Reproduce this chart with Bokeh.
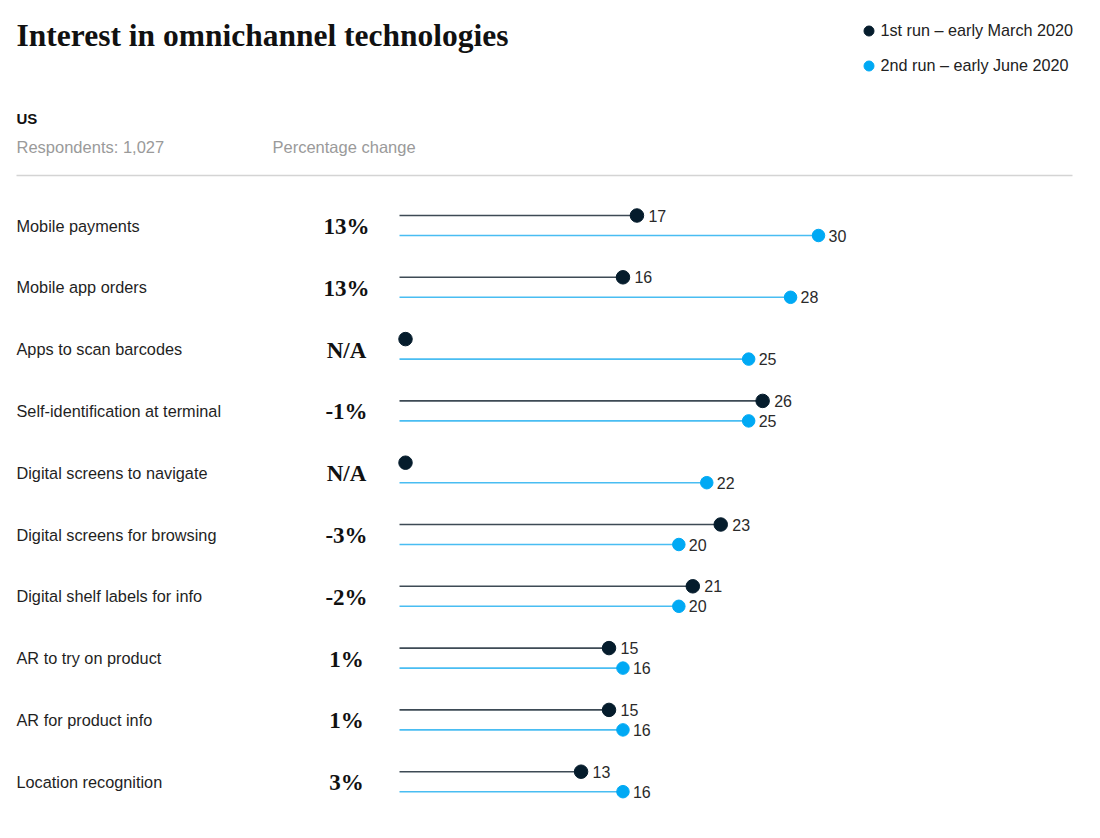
from bokeh.plotting import figure
from bokeh.models import (ColumnDataSource, Range1d, Label, LabelSet, Legend, LegendItem)
from bokeh.transform import dodge
from bokeh.core.properties import value
from bokeh.embed import file_html
from bokeh.resources import INLINE

# ---- data ----
categories = ["Mobile payments", "Mobile app orders", "Apps to scan barcodes",
              "Self-identification at terminal", "Digital screens to navigate",
              "Digital screens for browsing", "Digital shelf labels for info",
              "AR to try on product", "AR for product info", "Location recognition"]
run1 = [17, 16, None, 26, None, 23, 21, 15, 15, 13]
run2 = [30, 28, 25, 25, 22, 20, 20, 16, 16, 16]
pct_change = ["13%", "13%", "N/A", "-1%", "N/A", "-3%", "-2%", "1%", "1%", "3%"]
legend_labels = ["1st run \u2013 early March 2020", "2nd run \u2013 early June 2020"]

DARK = "#051c2c"
BLUE = "#00a9f4"
SANS = "Liberation Sans"
SERIF = "Liberation Serif"

W, H = 1096, 830
PX_PER_UNIT = (818 - 399) / 30.0
ROW_H = 61.8
ROW0 = 225.0
OFF = 10.0 / ROW_H

def px2x(px):  # page pixel -> value units
    return (px - 399) / PX_PER_UNIT

def px2y(py):  # page pixel -> row units
    return (py - ROW0) / ROW_H

rows = list(range(len(categories)))
nan = float("nan")
r1 = [nan if v is None else v for v in run1]
src1 = ColumnDataSource(dict(row=[r - OFF for r in rows], v=r1, x0=[0] * len(rows),
                             lab=["" if v is None else str(v) for v in run1]))
src2 = ColumnDataSource(dict(row=[r + OFF for r in rows], v=run2, x0=[0] * len(rows),
                             lab=[str(v) for v in run2]))
na_rows = [r - OFF for r, v in zip(rows, run1) if v is None]
src_na = ColumnDataSource(dict(row=na_rows, v=[0] * len(na_rows)))
src_lab = ColumnDataSource(dict(row=rows, cat=categories, pct=pct_change))

p = figure(width=W, height=H, output_backend="svg", toolbar_location=None,
           x_range=Range1d(px2x(0), px2x(W)),
           y_range=Range1d(px2y(H), px2y(0)),
           min_border=0, outline_line_color=None)
p.axis.visible = False
p.grid.visible = False
p.background_fill_color = "white"
p.border_fill_color = "white"

# rule under header
p.line(x=[px2x(16), px2x(1072)], y=[px2y(175), px2y(175)], line_color="#d4d4d4", line_width=1.5)

# lollipops
p.segment(x0="x0", y0="row", x1="v", y1="row", source=src1, line_color="#3d4a55", line_width=1.6)
p.segment(x0="x0", y0="row", x1="v", y1="row", source=src2, line_color="#49bdf2", line_width=1.6)
g1 = p.scatter(x="v", y="row", source=src1, size=13.5, fill_color=DARK, line_color=DARK)
g2 = p.scatter(x="v", y="row", source=src2, size=12.5, fill_color=BLUE, line_color=BLUE)
p.scatter(x=dodge("v", 6 / PX_PER_UNIT), y="row", source=src_na, size=13.5, fill_color=DARK, line_color=DARK)

# value labels
for s, xo in ((src1, 11.5), (src2, 10)):
    p.text(x="v", y="row", text="lab", source=s, x_offset=xo, text_baseline="middle",
           text_font=value(SANS), text_font_size="16px", text_color="#2a2a2a")

# category labels and percentage change
p.add_layout(LabelSet(x=16, y="row", x_units="screen", text="cat", source=src_lab,
                      text_baseline="middle", text_font=value(SANS), text_font_size="16.3px",
                      text_color="#1f1f1f", y_offset=0))
p.add_layout(LabelSet(x=346, y="row", x_units="screen", text="pct", source=src_lab,
                      text_baseline="middle", text_align="center", text_font=value(SERIF),
                      text_font_style="bold", text_font_size="23px", text_color="#111111", y_offset=-1))

# header
def sy(py):
    return H - py

p.add_layout(Label(x=16, y=sy(35), x_units="screen", y_units="screen",
                   text="Interest in omnichannel technologies", text_font=SERIF,
                   text_font_style="bold", text_font_size="31.5px", text_color="#111111",
                   text_baseline="alphabetic"))
p.add_layout(Label(x=16, y=sy(118), x_units="screen", y_units="screen", text="US",
                   text_font=SANS, text_font_style="bold", text_font_size="15px",
                   text_color="#111111", text_baseline="alphabetic"))
p.add_layout(Label(x=16, y=sy(146), x_units="screen", y_units="screen", text="Respondents: 1,027",
                   text_font=SANS, text_font_size="16.5px", text_color="#9a9a9a",
                   text_baseline="alphabetic"))
p.add_layout(Label(x=272, y=sy(146), x_units="screen", y_units="screen", text="Percentage change",
                   text_font=SANS, text_font_size="16.5px", text_color="#9a9a9a",
                   text_baseline="alphabetic"))

# legend
legend = Legend(items=[LegendItem(label=legend_labels[0], renderers=[g1]),
                       LegendItem(label=legend_labels[1], renderers=[g2])],
                location=(855.5, sy(77.5)), orientation="vertical",
                glyph_width=25, glyph_height=25, label_standoff=0, spacing=10,
                padding=0, margin=0, border_line_color=None, background_fill_alpha=0,
                label_text_font=SANS, label_text_font_size="16.2px", label_text_color="#222222")
p.add_layout(legend, "center")

open("out.html", "w").write(file_html(p, INLINE))
